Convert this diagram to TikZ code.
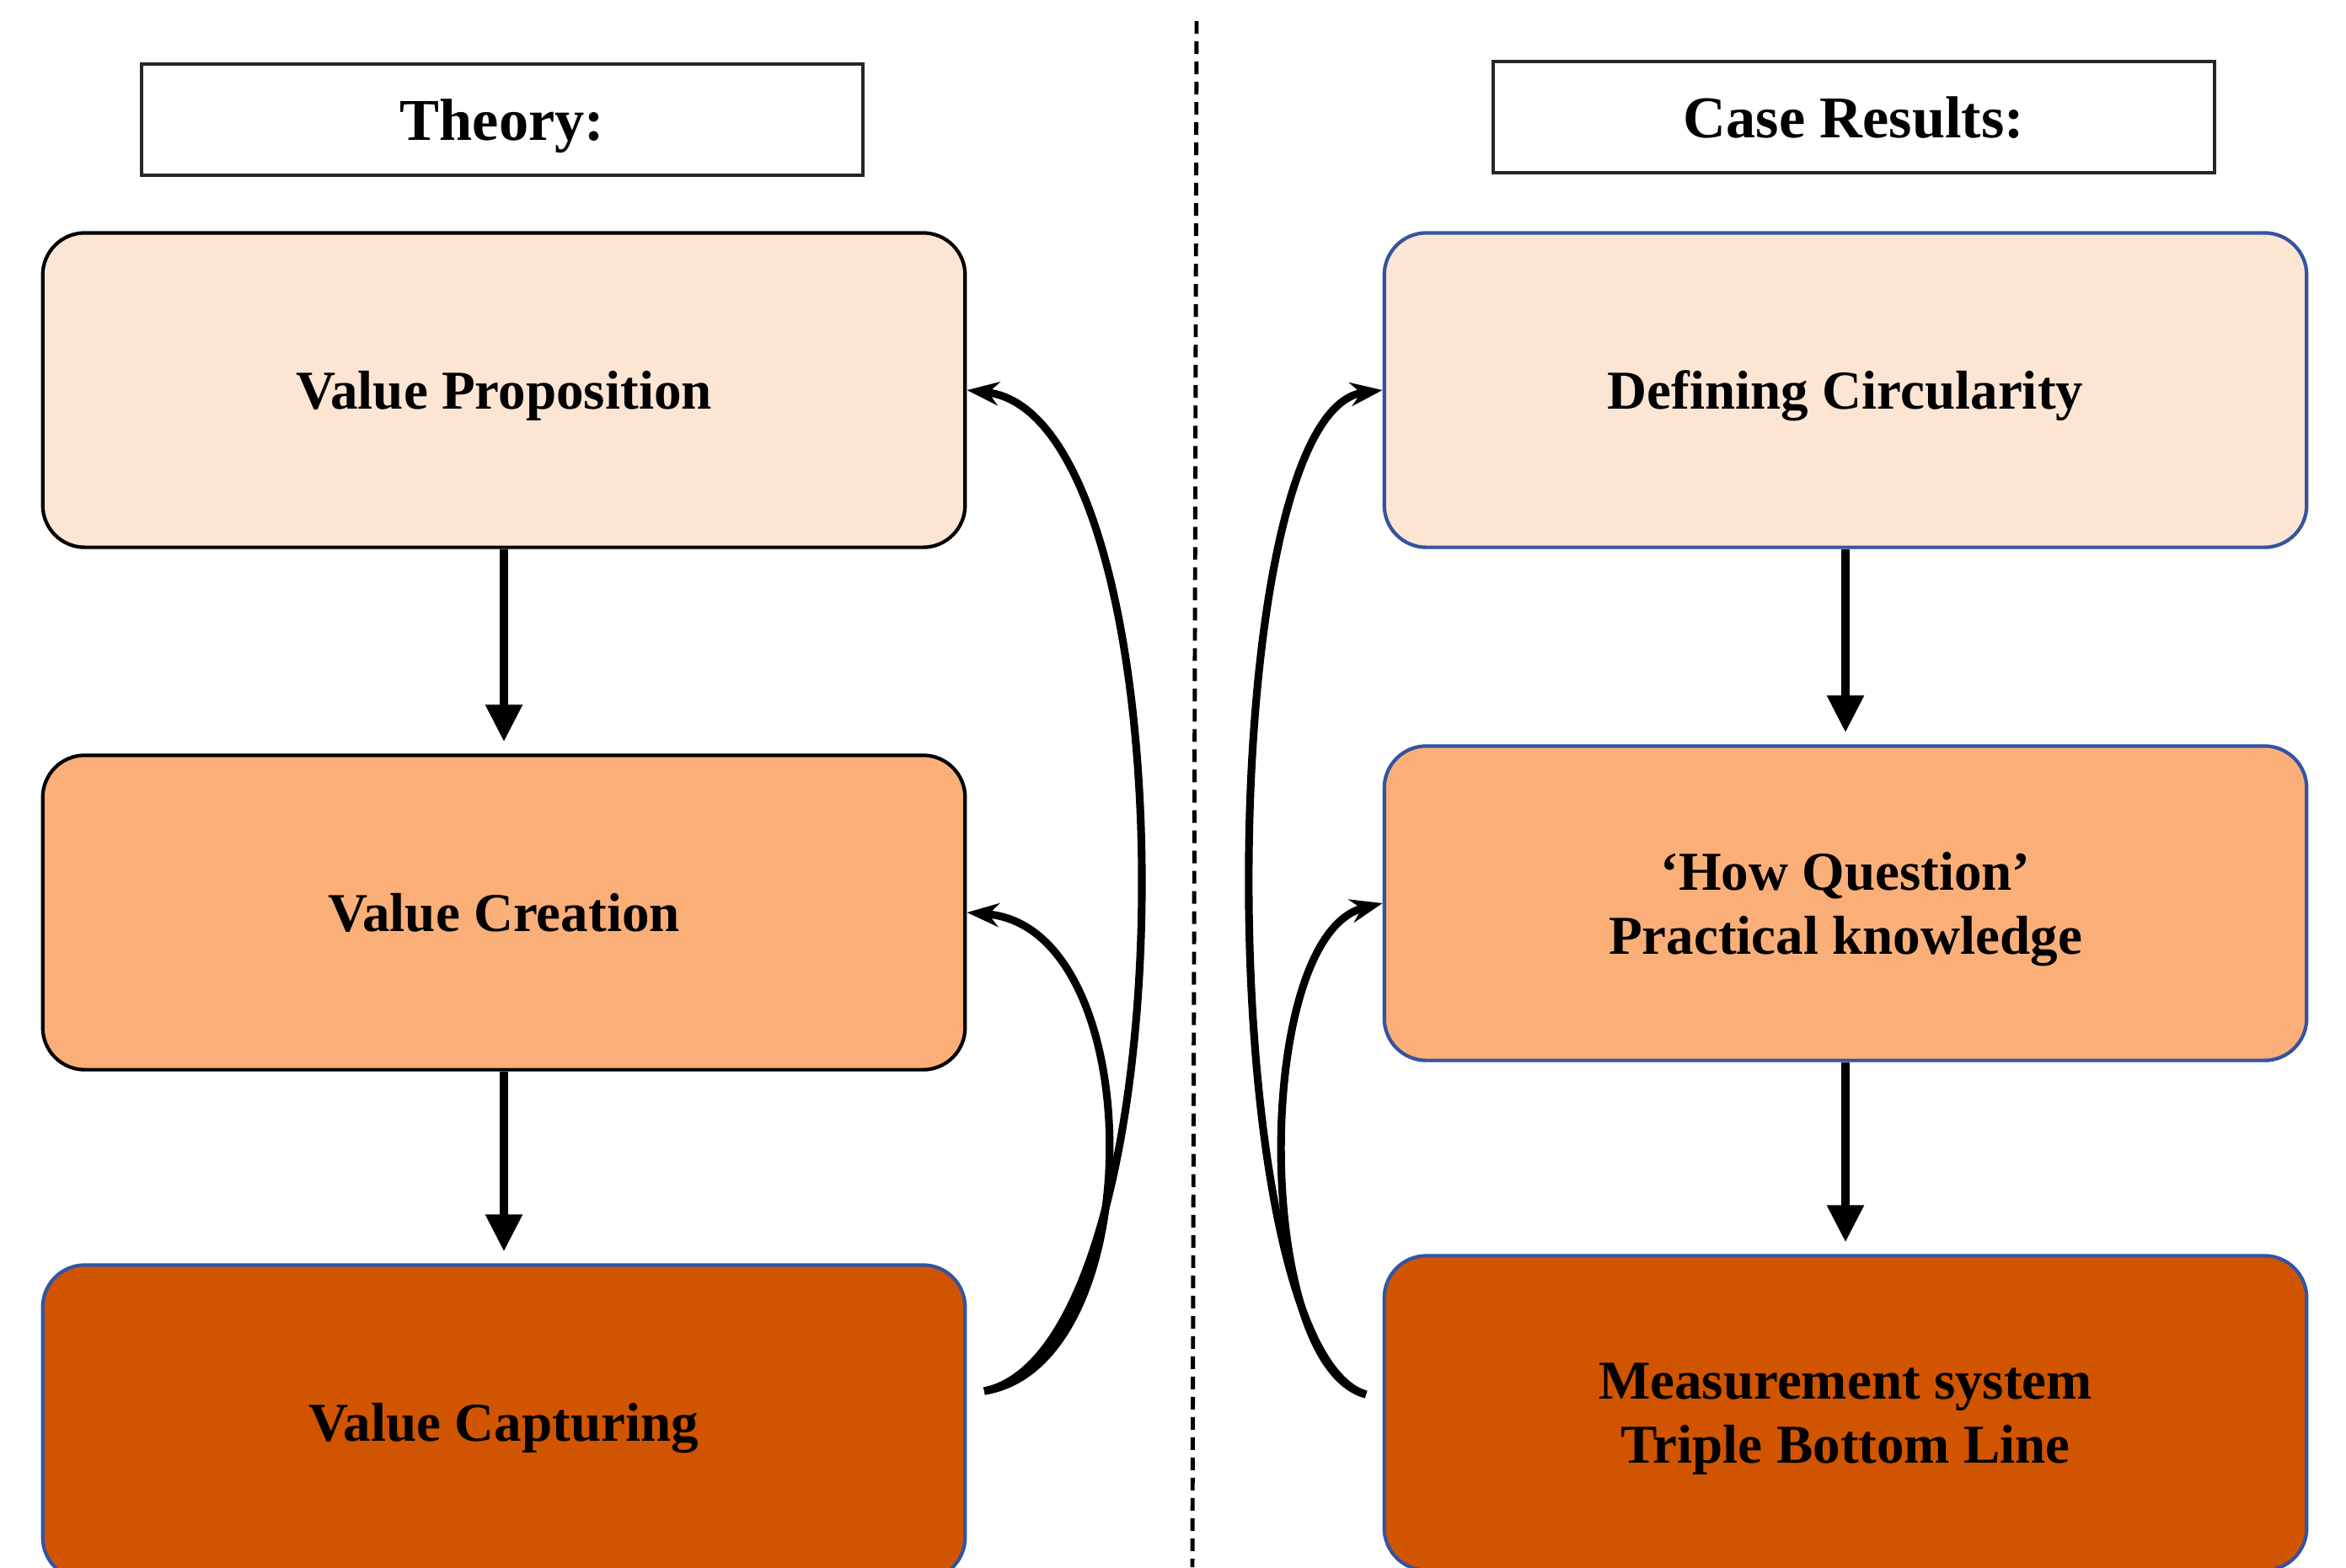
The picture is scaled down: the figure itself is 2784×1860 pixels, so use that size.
\documentclass[tikz,border=0pt]{standalone}
\usepackage{fontspec}
\setmainfont{Liberation Serif}
\usetikzlibrary{positioning,arrows.meta}
\definecolor{peach}{RGB}{253,229,212}
\definecolor{apricot}{RGB}{250,175,121}
\definecolor{rust}{RGB}{209,84,0}
\definecolor{frameblue}{RGB}{52,84,160}

\begin{document}
\begin{tikzpicture}[x=0.01cm, y=-0.01cm,
	titlebox/.style={draw=black!85, line width=1.1pt, minimum width=8.55cm, minimum height=1.32cm, text depth=0pt, font=\fontsize{20}{24}\selectfont\bfseries},
	stagebox/.style={rounded corners=0.5cm, line width=1.2pt, minimum width=10.94cm, minimum height=3.73cm, align=center, text depth=0pt, font=\fontsize{18.5}{21.5}\selectfont\bfseries},
	stepline/.style={-{Triangle[length=0.44cm,width=0.42cm]}, line width=2.6pt, shorten >=0.14cm},
	feedback/.style={-{Stealth[length=0.38cm,width=0.28cm]}, line width=2.6pt}]
	\useasboundingbox (0,0) rectangle (2784,1860);

					\node[titlebox] (theory) at (596,142) {Theory:};
					\node[titlebox] (caseres) at (2200,139) {Case Results:};

					\node[stagebox, draw=black, fill=peach] (vp) at (598,463) {Value Proposition};
					\node[stagebox, draw=black, fill=apricot] (vc) at (598,1083) {Value Creation};
					\node[stagebox, draw=frameblue, fill=rust] (vcap) at (598,1688) {Value Capturing};

					\node[stagebox, draw=frameblue, fill=peach] (dc) at (2190,463) {Defining Circularity};
					\node[stagebox, draw=frameblue, fill=apricot] (hq) at (2190,1072) {‘How Question’\\Practical knowledge};
					\node[stagebox, draw=frameblue, fill=rust] (ms) at (2190,1677) {Measurement system\\Triple Bottom Line};

					\coordinate (divtop) at (1420,25);
					\coordinate (divbot) at (1415,1860);
					\coordinate (capout) at (1168,1651);
					\coordinate (msout) at (1621,1655);

					\draw[line width=1.4pt, dash pattern=on 0.15cm off 0.09cm] (divtop) -- (divbot);

					\draw[stepline] (vp) -- (vc);
					\draw[stepline] (vc) -- (vcap);
					\draw[stepline] (dc) -- (hq);
					\draw[stepline] (hq) -- (ms);

					\draw[feedback] (capout) .. controls (1417,1600) and (1417,493) .. (vp.east);
					\draw[feedback] (capout) .. controls (1366,1620) and (1366,1100) .. (vc.east);
					\draw[feedback] (msout) .. controls (1436,1600) and (1436,490) .. (dc.west);
					\draw[feedback] (msout) .. controls (1487,1620) and (1487,1110) .. (hq.west);

	\end{tikzpicture}
\end{document}
